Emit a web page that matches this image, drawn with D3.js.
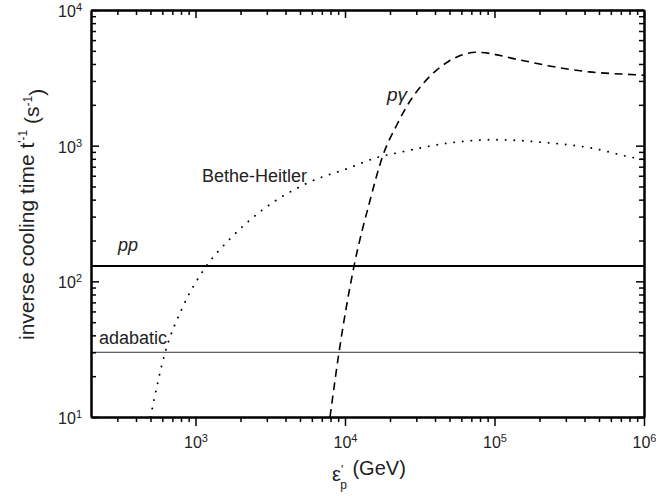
<!DOCTYPE html>
<html>
<head>
<meta charset="utf-8">
<script src="https://cdn.jsdelivr.net/npm/d3@7"></script>
<style>
body { margin: 0; background: #fff; }
text { font-family: "Liberation Sans", Arial, sans-serif; fill: #222; }
</style>
</head>
<body>
<svg id="chart"></svg>
<script>
// Bethe-Heitler (energy GeV, inverse cooling time s^-1)
var bhE = [500, 627, 813, 1190, 1660, 2775, 5500, 10800, 16300, 23000, 51600, 100000, 223000, 430000, 843000, 1000000];
var bhT = [10, 30, 63, 131, 200, 333, 525, 689, 817, 890, 1052, 1107, 1052, 967, 817, 790];

// p-gamma
var pgE = [7940, 9120, 11500, 14700, 17900, 22200, 27500, 33600, 41000, 48600, 60300, 76000, 147000, 233000, 430000, 880000, 1000000];
var pgT = [10, 30, 130, 394, 844, 1420, 2170, 2900, 3610, 4140, 4660, 4880, 4290, 3870, 3500, 3330, 3300];

// constant rates
var ppT = 130;
var adT = 30;

// axis ticks
var xTicks = [1e3, 1e4, 1e5, 1e6];
var yTicks = [1e1, 1e2, 1e3, 1e4];
var xExp = ["3", "4", "5", "6"];
var yExp = ["1", "2", "3", "4"];

var margin = {top: 10, right: 12, bottom: 79, left: 91};
var width = 656 - margin.left - margin.right;
var height = 496 - margin.top - margin.bottom;

var svg = d3.select("#chart")
  .attr("width", 656)
  .attr("height", 496)
  .append("g")
  .attr("transform", "translate(" + margin.left + "," + margin.top + ")");

var xScale = d3.scaleLog().domain([200, 1e6]).range([0, width]);
var yScale = d3.scaleLog().domain([10, 1e4]).range([height, 0]);

// minor tick positions 2..9 per decade
function minors(scale) {
  var dom = scale.domain(), out = [];
  for (var d = 1; d <= 1e6; d *= 10) {
    for (var k = 2; k <= 9; k++) {
      var v = d * k;
      if (v > dom[0] && v < dom[1]) out.push(v);
    }
  }
  return out;
}

svg.append("clipPath").attr("id", "clip")
  .append("rect").attr("width", width).attr("height", height);

// horizontal lines
svg.append("line")
  .attr("x1", xScale(200)).attr("x2", xScale(1e6))
  .attr("y1", yScale(ppT)).attr("y2", yScale(ppT))
  .attr("stroke", "#000").attr("stroke-width", 2);
svg.append("line")
  .attr("x1", xScale(200)).attr("x2", xScale(1e6))
  .attr("y1", yScale(adT)).attr("y2", yScale(adT))
  .attr("stroke", "#333").attr("stroke-width", 1);

var line = d3.line()
  .x(function(d) { return xScale(d[0]); })
  .y(function(d) { return yScale(d[1]); })
  .curve(d3.curveMonotoneX);

svg.append("path")
  .datum(d3.zip(bhE, bhT))
  .attr("clip-path", "url(#clip)")
  .attr("d", line)
  .attr("fill", "none")
  .attr("stroke", "#000")
  .attr("stroke-width", 1.9)
  .attr("stroke-linecap", "round")
  .attr("stroke-dasharray", "0.1,8.5");

svg.append("path")
  .datum(d3.zip(pgE, pgT))
  .attr("clip-path", "url(#clip)")
  .attr("d", line)
  .attr("fill", "none")
  .attr("stroke", "#000")
  .attr("stroke-width", 1.6)
  .attr("stroke-dasharray", "8,5.5");

// axes
function styleAxis(g) {
  g.select(".domain").attr("stroke", "#000").attr("stroke-width", 2);
  g.selectAll(".tick line").attr("stroke", "#000").attr("stroke-width", 1.5);
}
function supLabels(g, exps, size) {
  g.selectAll(".tick text").each(function(d, i) {
    var t = d3.select(this).text("10").style("font-size", size + "px");
    t.append("tspan").attr("dy", "-0.55em").style("font-size", "11px").text(exps[i]);
  });
}

var xAxis = svg.append("g")
  .attr("transform", "translate(0," + height + ")")
  .call(d3.axisBottom(xScale).tickValues(xTicks).tickSize(9).tickSizeOuter(0).tickPadding(11));
xAxis.call(supLabels, xExp, 16);
xAxis.call(styleAxis);
svg.append("g")
  .attr("transform", "translate(0," + height + ")")
  .call(d3.axisBottom(xScale).tickValues(minors(xScale)).tickSize(5).tickSizeOuter(0).tickFormat(""))
  .call(styleAxis);

svg.append("g")
  .call(d3.axisTop(xScale).tickValues(xTicks).tickSize(-8).tickSizeOuter(0).tickFormat(""))
  .call(styleAxis);
svg.append("g")
  .call(d3.axisTop(xScale).tickValues(minors(xScale)).tickSize(-5).tickSizeOuter(0).tickFormat(""))
  .call(styleAxis);

var yAxis = svg.append("g")
  .call(d3.axisLeft(yScale).tickValues(yTicks).tickSize(-8).tickSizeOuter(0).tickPadding(9));
yAxis.call(supLabels, yExp, 16);
yAxis.selectAll(".tick text").attr("dy", "0.4em");
yAxis.call(styleAxis);
svg.append("g")
  .call(d3.axisLeft(yScale).tickValues(minors(yScale)).tickSize(-5).tickSizeOuter(0).tickFormat(""))
  .call(styleAxis);

svg.append("g")
  .attr("transform", "translate(" + width + ",0)")
  .call(d3.axisRight(yScale).tickValues(yTicks).tickSize(-8).tickSizeOuter(0).tickFormat(""))
  .call(styleAxis);
svg.append("g")
  .attr("transform", "translate(" + width + ",0)")
  .call(d3.axisRight(yScale).tickValues(minors(yScale)).tickSize(-5).tickSizeOuter(0).tickFormat(""))
  .call(styleAxis);

// curve labels
svg.append("text").attr("x", 111).attr("y", 172).style("font-size", "18px").text("Bethe-Heitler");
svg.append("text").attr("x", 27).attr("y", 241).style("font-size", "18px").style("font-style", "italic").text("pp");
svg.append("text").attr("x", 8).attr("y", 334).style("font-size", "18px").text("adabatic");
svg.append("text").attr("x", 296).attr("y", 91).style("font-size", "19px").style("font-style", "italic").text("p\u03b3");

// axis titles
var xt = svg.append("text")
  .attr("x", 241).attr("y", 471)
  .style("font-size", "20px");
xt.append("tspan").text("\u03b5");
xt.append("tspan").attr("dy", "-0.55em").style("font-size", "12px").text("'");
xt.append("tspan").attr("dx", "-3").attr("dy", "1.25em").style("font-size", "12px").text("p");
xt.append("tspan").attr("dy", "-0.7em").text(" (GeV)");

var yt = svg.append("text")
  .attr("transform", "translate(-57,330) rotate(-90)")
  .style("font-size", "21px");
yt.append("tspan").text("inverse cooling time  t");
yt.append("tspan").attr("dy", "-0.55em").style("font-size", "12px").text("'-1");
yt.append("tspan").attr("dy", "0.55em").text(" (s");
yt.append("tspan").attr("dy", "-0.55em").style("font-size", "12px").text("-1");
yt.append("tspan").attr("dy", "0.55em").text(")");
</script>
</body>
</html>
